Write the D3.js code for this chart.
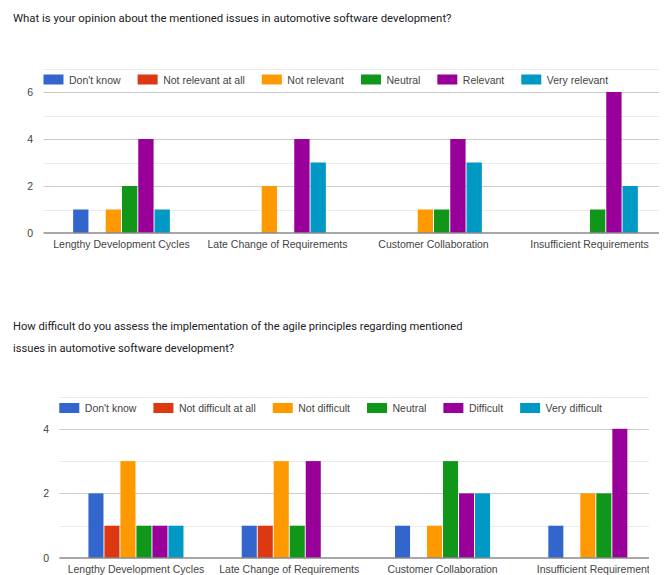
<!DOCTYPE html>
<html>
<head>
<meta charset="utf-8">
<script src="https://cdn.jsdelivr.net/npm/d3@7/dist/d3.min.js"></script>
<style>
  html, body { margin: 0; padding: 0; background: #fff; }
  svg { display: block; }
</style>
</head>
<body>
<svg id="page" width="664" height="575"></svg>
<script>
// Issue categories shared by both questions
const categories = [
  "Lengthy Development Cycles",
  "Late Change of Requirements",
  "Customer Collaboration",
  "Insufficient Requirements"
];

// Question 1: relevance of the issues
const title1 = ["What is your opinion about the mentioned issues in automotive software development?"];
const series1 = ["Don't know", "Not relevant at all", "Not relevant", "Neutral", "Relevant", "Very relevant"];
const values1 = [
  [1, 0, 0, 0],   // Don't know
  [0, 0, 0, 0],   // Not relevant at all
  [1, 2, 1, 0],   // Not relevant
  [2, 0, 1, 1],   // Neutral
  [4, 4, 4, 6],   // Relevant
  [1, 3, 3, 2]    // Very relevant
];
const ticks1 = [0, 2, 4, 6];

// Question 2: difficulty of applying agile principles
const title2 = [
  "How difficult do you assess the implementation of the agile principles regarding mentioned",
  "issues in automotive software development?"
];
const series2 = ["Don't know", "Not difficult at all", "Not difficult", "Neutral", "Difficult", "Very difficult"];
const values2 = [
  [2, 1, 1, 1],   // Don't know
  [1, 1, 0, 0],   // Not difficult at all
  [3, 3, 1, 2],   // Not difficult
  [1, 1, 3, 2],   // Neutral
  [1, 3, 2, 4],   // Difficult
  [1, 0, 2, 0]    // Very difficult
];
const ticks2 = [0, 2, 4];

const palette = ["#3366cc", "#dc3912", "#ff9900", "#109618", "#990099", "#0099c6"];

const svg = d3.select("#page");
svg.append("rect").attr("width", 664).attr("height", 575).attr("fill", "#fff");

const titleFont = "Roboto, 'Open Sans', sans-serif";
const chartFont = "'Liberation Sans', Arial, sans-serif";

// Question headings; the first line is sized to span the given width
function drawTitle(lines, x, y0, lineH, firstWidth) {
  const t = svg.append("text")
    .attr("font-family", titleFont)
    .attr("font-size", 13)
    .attr("fill", "#202124");
  lines.forEach((s, i) => {
    t.append("tspan").attr("x", x).attr("y", y0 + i * lineH).text(s);
  });
  const w = t.select("tspan").node().getComputedTextLength();
  t.attr("font-size", 13 * firstWidth / w);
}

function drawChart(cfg) {
  const g = svg.append("g");
  const id = "clip" + cfg.key;
  svg.append("clipPath").attr("id", id)
    .append("rect")
    .attr("x", 0).attr("y", 0)
    .attr("width", cfg.clipRight).attr("height", 575);
  g.attr("clip-path", `url(#${id})`);

  const y = d3.scaleLinear().domain([0, cfg.yMax]).range([cfg.y0, cfg.yTop]);
  const x0 = d3.scaleBand().domain(categories)
    .range([cfg.left, cfg.right]).paddingInner(0.38).paddingOuter(0.19);
  const x1 = d3.scaleBand().domain(d3.range(cfg.series.length))
    .range([0, x0.bandwidth()]).paddingInner(0.06);

  // minor gridlines (odd values)
  const minor = d3.range(1, cfg.yMax + 1, 2);
  g.selectAll(".minor").data(minor).join("line")
    .attr("x1", cfg.left).attr("x2", cfg.right)
    .attr("y1", d => Math.round(y(d)) + 0.5).attr("y2", d => Math.round(y(d)) + 0.5)
    .attr("stroke", "#ebebeb").attr("stroke-width", 1);

  // major gridlines
  g.selectAll(".major").data(cfg.ticks.filter(d => d > 0)).join("line")
    .attr("x1", cfg.left).attr("x2", cfg.right)
    .attr("y1", d => Math.round(y(d)) + 0.5).attr("y2", d => Math.round(y(d)) + 0.5)
    .attr("stroke", "#cccccc").attr("stroke-width", 1);

  // y axis labels
  const yAxis = d3.axisLeft(y).tickValues(cfg.ticks).tickFormat(d3.format("d"))
    .tickSize(0).tickPadding(0);
  const ya = svg.append("g").attr("transform", `translate(${cfg.labelRight},0)`).call(yAxis);
  ya.select(".domain").remove();
  ya.selectAll("text")
    .attr("font-family", chartFont).attr("font-size", 10.5).attr("fill", "#444");

  // bars
  const groups = g.selectAll(".grp").data(categories).join("g")
    .attr("transform", d => `translate(${x0(d)},0)`);
  groups.selectAll("rect")
    .data((c, ci) => cfg.series.map((s, si) => ({ si, v: cfg.values[si][ci] })))
    .join("rect")
    .filter(d => d.v > 0)
    .attr("x", d => x1(d.si))
    .attr("y", d => y(d.v))
    .attr("width", x1.bandwidth())
    .attr("height", d => y(0) - y(d.v))
    .attr("fill", d => palette[d.si]);

  // baseline
  g.append("line")
    .attr("x1", cfg.left).attr("x2", cfg.right)
    .attr("y1", y(0)).attr("y2", y(0))
    .attr("stroke", "#8a8a8a").attr("stroke-width", 1.5);

  // x axis labels
  const xAxis = d3.axisBottom(x0).tickSize(0).tickPadding(0);
  const xa = g.append("g").attr("transform", `translate(0,${cfg.y0 + 15})`).call(xAxis);
  xa.select(".domain").remove();
  xa.selectAll("text")
    .attr("dy", 0)
    .attr("font-family", chartFont).attr("font-size", 10.5).attr("fill", "#444");

  // legend
  const lg = g.append("g");
  let lx = cfg.left;
  cfg.series.forEach((s, i) => {
    lg.append("rect")
      .attr("x", lx).attr("y", cfg.legendY)
      .attr("width", 20).attr("height", 10)
      .attr("fill", palette[i]);
    const t = lg.append("text")
      .attr("x", lx + 25.5).attr("y", cfg.legendY + 9)
      .attr("font-family", chartFont).attr("font-size", 10.5).attr("fill", "#444")
      .text(s);
    lx += 25.5 + t.node().getComputedTextLength() + 17;
  });
}

drawTitle(title1, 13, 21.5, 21.5, 439);
drawChart({
  key: 1, series: series1, values: values1, ticks: ticks1, yMax: 7,
  y0: 233, yTop: 68.5, left: 43.5, right: 667.5, clipRight: 659,
  labelRight: 33, legendY: 74.5
});

drawTitle(title2, 13, 330, 21.5, 450);
drawChart({
  key: 2, series: series2, values: values2, ticks: ticks2, yMax: 5,
  y0: 558, yTop: 396.5, left: 59.3, right: 672.5, clipRight: 649,
  labelRight: 49, legendY: 403
});
</script>
</body>
</html>
